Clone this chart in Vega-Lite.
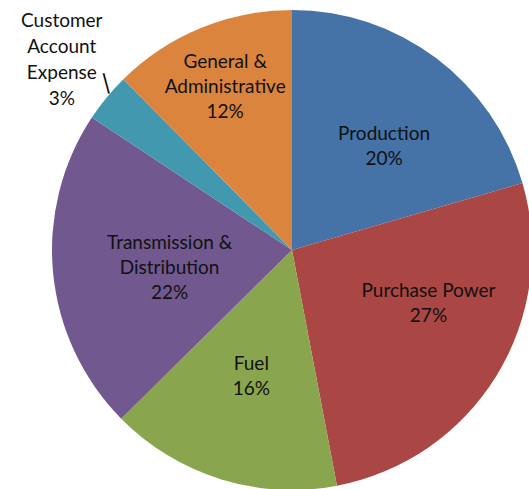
{
  "$schema": "https://vega.github.io/schema/vega-lite/v6.json",
  "autosize": {"type": "none"},
  "width": 476,
  "height": 478,
  "padding": {"left": 54, "top": 11, "right": 0, "bottom": 0},
  "background": "white",
  "config": {"view": {"stroke": null}},
  "data": {
    "values": [
      {"o": 1, "cat": "Production", "label": "Production\n20%", "value": 20.5},
      {"o": 2, "cat": "Purchase Power", "label": "Purchase Power\n27%", "value": 26.5},
      {"o": 3, "cat": "Fuel", "label": "Fuel\n16%", "value": 15.6},
      {"o": 4, "cat": "Transmission & Distribution", "label": "Transmission &\nDistribution\n22%", "value": 21.7},
      {"o": 5, "cat": "Customer Account Expense", "label": "Customer\nAccount\nExpense\n3%", "value": 3.3},
      {"o": 6, "cat": "General & Administrative", "label": "General &\nAdministrative\n12%", "value": 12.4}
    ]
  },
  "encoding": {
    "theta": {"field": "value", "type": "quantitative", "stack": true},
    "order": {"field": "o", "type": "quantitative"}
  },
  "layer": [
    {
      "mark": {"type": "arc", "outerRadius": 240},
      "encoding": {
        "color": {
          "field": "cat",
          "type": "nominal",
          "sort": null,
          "legend": null,
          "scale": {
            "domain": ["Production", "Purchase Power", "Fuel", "Transmission & Distribution", "Customer Account Expense", "General & Administrative"],
            "range": ["#4572A7", "#AA4643", "#89A54E", "#71588F", "#4198AF", "#DB843D"]
          }
        }
      }
    },
    {
      "mark": {"type": "text", "radius": 145, "dx": 5, "font": "Lato", "fontSize": 19, "lineHeight": 25, "lineBreak": "\n", "color": "#111111", "align": "center", "baseline": "middle"},
      "encoding": {
        "text": {"condition": {"test": "datum.cat === 'Production'", "field": "label"}, "value": ""}
      }
    },
    {
      "mark": {"type": "text", "radius": 137, "dy": -17, "font": "Lato", "fontSize": 19, "lineHeight": 25, "lineBreak": "\n", "color": "#111111", "align": "center", "baseline": "middle"},
      "encoding": {
        "text": {"condition": {"test": "datum.cat === 'Fuel'", "field": "label"}, "value": ""}
      }
    },
    {
      "mark": {"type": "text", "radius": 146, "dx": 12, "dy": -35, "font": "Lato", "fontSize": 19, "lineHeight": 25, "lineBreak": "\n", "color": "#111111", "align": "center", "baseline": "middle"},
      "encoding": {
        "text": {"condition": {"test": "datum.cat === 'Purchase Power'", "field": "label"}, "value": ""}
      }
    },
    {
      "mark": {"type": "text", "radius": 123, "dy": -19, "font": "Lato", "fontSize": 19, "lineHeight": 25, "lineBreak": "\n", "color": "#111111", "align": "center", "baseline": "middle"},
      "encoding": {
        "text": {"condition": {"test": "datum.cat === 'Transmission & Distribution'", "field": "label"}, "value": ""}
      }
    },
    {
      "mark": {"type": "text", "radius": 176, "dy": -25, "font": "Lato", "fontSize": 19, "lineHeight": 25, "lineBreak": "\n", "color": "#111111", "align": "center", "baseline": "middle"},
      "encoding": {
        "text": {"condition": {"test": "datum.cat === 'General & Administrative'", "field": "label"}, "value": ""}
      }
    },
    {
      "mark": {"type": "text", "radius": 298, "dy": -40, "font": "Lato", "fontSize": 19, "lineHeight": 26, "lineBreak": "\n", "color": "#111111", "align": "center", "baseline": "middle"},
      "encoding": {
        "text": {"condition": {"test": "datum.cat === 'Customer Account Expense'", "field": "label"}, "value": ""}
      }
    },
    {
      "mark": {"type": "text", "radius": 255, "dx": 12, "dy": -2, "angle": 345, "font": "DejaVu Sans", "fontSize": 21, "color": "#111111", "align": "center", "baseline": "middle"},
      "encoding": {
        "text": {"condition": {"test": "datum.cat === 'Customer Account Expense'", "value": "|"}, "value": ""}
      }
    }
  ]
}
